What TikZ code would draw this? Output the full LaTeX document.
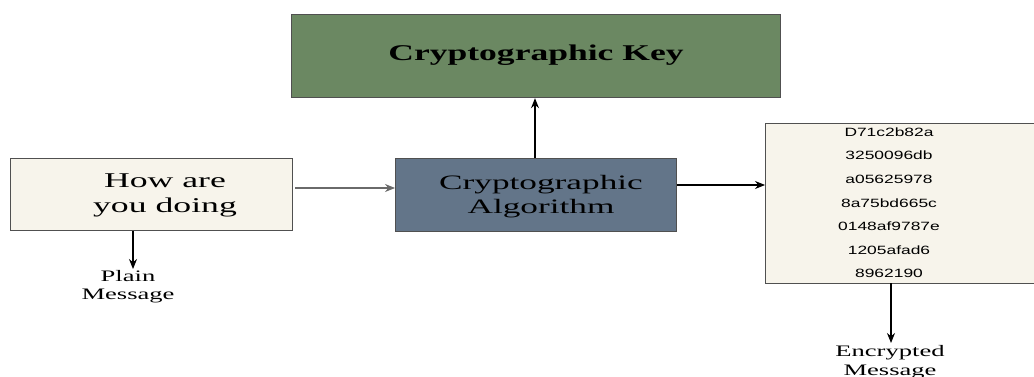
\documentclass[tikz,border=0pt]{standalone}
\usepackage{fontspec}
\usepackage{graphicx}
\setmainfont{Liberation Serif}
\newfontfamily\hexfont{Liberation Sans}
\usetikzlibrary{arrows.meta}
\definecolor{keygreen}{HTML}{6B8862}
\definecolor{algoblue}{HTML}{637589}
\definecolor{paper}{HTML}{F7F4EB}
\definecolor{edge}{HTML}{505050}
\newcommand{\wide}[2]{\scalebox{#1}[1]{#2}}
\tikzset{
  boxnode/.style={draw=edge, line width=1.2pt, inner sep=0pt, anchor=north west},
  conn/.style={line width=1.1pt, -{Stealth[length=10pt,width=8pt]}},
  lbl/.style={inner sep=0pt, align=center},
}
\begin{document}
\begin{tikzpicture}[x=1pt,y=-1pt]
\useasboundingbox (0,0) rectangle (1034,377);
% boxes
\node[boxnode, fill=keygreen, minimum width=489pt, minimum height=83pt] (key) at (291,14) {};
\node[boxnode, fill=paper, minimum width=282pt, minimum height=72pt] (plain) at (10,158) {};
\node[boxnode, fill=algoblue, minimum width=281pt, minimum height=73pt] (algo) at (395,158) {};
\node[boxnode, fill=paper, minimum width=290pt, minimum height=160pt] (cipher) at (765,123) {};
% texts
\node[lbl] (keytxt) at (536,55) {\wide{1.58}{\fontsize{22.5}{26}\selectfont\bfseries Cryptographic Key}};
\node[lbl] (plaintxt) at (165,195) {\wide{1.7}{\fontsize{21}{25}\selectfont\begin{tabular}{@{}c@{}}How are\\[-1pt]you doing\end{tabular}}};
\node[lbl] (algotxt) at (541,197) {\wide{1.72}{\fontsize{20.5}{25}\selectfont\begin{tabular}{@{}c@{}}Cryptographic\\[-1pt]Algorithm\end{tabular}}};
\foreach \t [count=\i] in {D71c2b82a,3250096db,a05625978,8a75bd665c,0148af9787e,1205afad6,8962190}{
  \node[lbl] (hex\i) at (889,{132+23.6*(\i-1)}) {\wide{1.45}{\hexfont\fontsize{12}{14}\selectfont \t}};
}
\node[lbl, anchor=north] (plainlbl) at (128,269) {\wide{1.66}{\fontsize{16}{18}\selectfont\begin{tabular}{@{}c@{}}Plain\\Message\end{tabular}}};
\node[lbl, anchor=north] (enclbl) at (890,343) {\wide{1.66}{\fontsize{16}{19}\selectfont\begin{tabular}{@{}c@{}}Encrypted\\Message\end{tabular}}};
% connectors
\coordinate (plainout) at (295,188);
\coordinate (algoin) at (395,188);
\draw[conn, draw=edge!85] (plainout) -- (algoin);
\coordinate (algoout) at (677,185);
\coordinate (cipherin) at (765,185);
\draw[conn] (algoout) -- (cipherin);
\draw[conn] (algo.north -| keytxt) ++(-1,0) coordinate (algotop) -- (algotop |- key.south);
\draw[conn] (133,231) coordinate (plaindown) -- (plaindown |- plainlbl.north);
\draw[conn] (891,283) coordinate (cipherdown) -- (cipherdown |- enclbl.north);
\end{tikzpicture}
\end{document}
